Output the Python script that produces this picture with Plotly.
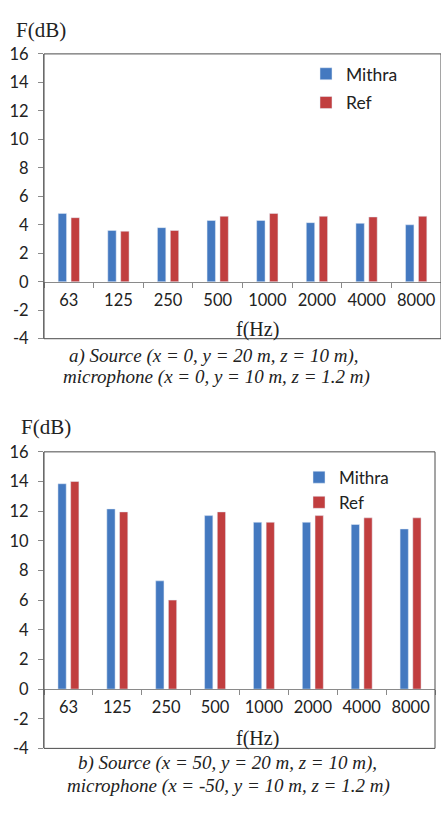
import plotly.graph_objects as go

freqs = ["63", "125", "250", "500", "1000", "2000", "4000", "8000"]
mithra_a = [4.8, 3.6, 3.8, 4.3, 4.3, 4.15, 4.1, 4.0]
ref_a = [4.5, 3.55, 3.6, 4.6, 4.8, 4.6, 4.55, 4.6]
mithra_b = [13.85, 12.15, 7.3, 11.7, 11.25, 11.25, 11.1, 10.8]
ref_b = [14.0, 11.95, 6.0, 11.95, 11.25, 11.7, 11.55, 11.55]
y_ticks = [-4, -2, 0, 2, 4, 6, 8, 10, 12, 14, 16]
y_tick_labels = ["-4", "-2", "0", "2", "4", "6", "8", "10", "12", "14", "16"]

BLUE = "#4479C0"
RED = "#C13E3F"
W, H = 441, 813

def px_x(p):
    return p / W

def px_y(p):
    return 1 - p / H

top_dom = [px_y(337), px_y(45)]
bot_dom = [px_y(757), px_y(453)]

fig = go.Figure()
fig.add_trace(go.Bar(x=freqs, y=mithra_a, name="Mithra", marker_color=BLUE,
                     xaxis="x", yaxis="y", legend="legend", legendgroup="a1"))
fig.add_trace(go.Bar(x=freqs, y=ref_a, name="Ref", marker_color=RED,
                     xaxis="x", yaxis="y", legend="legend", legendgroup="a2"))
fig.add_trace(go.Bar(x=freqs, y=mithra_b, name="Mithra", marker_color=BLUE,
                     xaxis="x2", yaxis="y2", legend="legend2", legendgroup="b1"))
fig.add_trace(go.Bar(x=freqs, y=ref_b, name="Ref", marker_color=RED,
                     xaxis="x2", yaxis="y2", legend="legend2", legendgroup="b2"))

tickfont = dict(family="Lato", size=16.5, color="#222")
axcol = "#8a8a8a"

def xax(dom_x, dom_y):
    return dict(type="category", domain=dom_x, anchor="free",
                position=dom_y[0] + 0.2 * (dom_y[1] - dom_y[0]),
                showline=True, linecolor=axcol, linewidth=1,
                ticks="outside", tickson="boundaries", ticklen=5, tickcolor=axcol,
                tickfont=tickfont, showgrid=False, zeroline=False,
                ticklabelstandoff=3, fixedrange=True)

def yax(dom_y, anchor):
    return dict(domain=dom_y, anchor=anchor, range=[-4, 16],
                tickmode="array", tickvals=y_ticks, ticktext=y_tick_labels,
                showline=True, linecolor=axcol, ticks="outside", ticklen=5,
                tickcolor=axcol, tickfont=tickfont, showgrid=False,
                zeroline=False, ticklabelstandoff=6, fixedrange=True)

fig.update_layout(
    width=W, height=H, margin=dict(l=0, r=0, t=0, b=0),
    paper_bgcolor="white", plot_bgcolor="white",
    barmode="group", bargap=0.48, bargroupgap=0.35,
    xaxis=xax([px_x(44), 1.0], top_dom),
    yaxis=yax(top_dom, "x"),
    xaxis2=xax([px_x(44), px_x(435)], bot_dom),
    yaxis2=yax(bot_dom, "x2"),
    legend=dict(x=px_x(306), y=px_y(47), xanchor="left", yanchor="top",
                font=dict(family="Lato", size=17.5, color="#222"),
                bgcolor="rgba(0,0,0,0)", tracegroupgap=3),
    legend2=dict(x=px_x(299), y=px_y(461), xanchor="left", yanchor="top",
                 font=dict(family="Lato", size=17, color="#222"),
                 bgcolor="rgba(0,0,0,0)", tracegroupgap=0),
    showlegend=True,
)

border = "#4a4a4a"
for xr, yr in [("x", "y"), ("x2", "y2")]:
    fig.add_shape(type="rect", xref=f"{xr} domain", yref=f"{yr} domain",
                  x0=0, x1=1, y0=0, y1=1, line=dict(color=border, width=1),
                  layer="above")

serif = "Liberation Serif"
ann = [
    dict(text="F(dB)", x=px_x(14), y=px_y(20), xanchor="left", yanchor="middle",
         font=dict(family=serif, size=21, color="#222")),
    dict(text="f(Hz)", x=px_x(257), y=px_y(328), xanchor="center", yanchor="middle",
         font=dict(family=serif, size=20, color="#222")),
    dict(text="<i>a) Source (x = 0, y = 20 m, z = 10 m),</i>", x=px_x(213), y=px_y(355),
         xanchor="center", yanchor="middle", font=dict(family=serif, size=19, color="#222")),
    dict(text="<i>microphone (x = 0, y = 10 m, z = 1.2 m)</i>", x=px_x(216), y=px_y(376),
         xanchor="center", yanchor="middle", font=dict(family=serif, size=19, color="#222")),
    dict(text="F(dB)", x=px_x(19), y=px_y(428), xanchor="left", yanchor="middle",
         font=dict(family=serif, size=21, color="#222")),
    dict(text="f(Hz)", x=px_x(257), y=px_y(747), xanchor="center", yanchor="middle",
         font=dict(family=serif, size=20, color="#222")),
    dict(text="<i>b) Source (x = 50, y = 20 m, z = 10 m),</i>", x=px_x(227), y=px_y(772),
         xanchor="center", yanchor="middle", font=dict(family=serif, size=19, color="#222")),
    dict(text="<i>microphone (x = -50, y = 10 m, z = 1.2 m)</i>", x=px_x(228), y=px_y(796),
         xanchor="center", yanchor="middle", font=dict(family=serif, size=19, color="#222")),
]
for a in ann:
    a.update(xref="paper", yref="paper", showarrow=False)
    fig.add_annotation(**a)

fig.write_html("out.html")
